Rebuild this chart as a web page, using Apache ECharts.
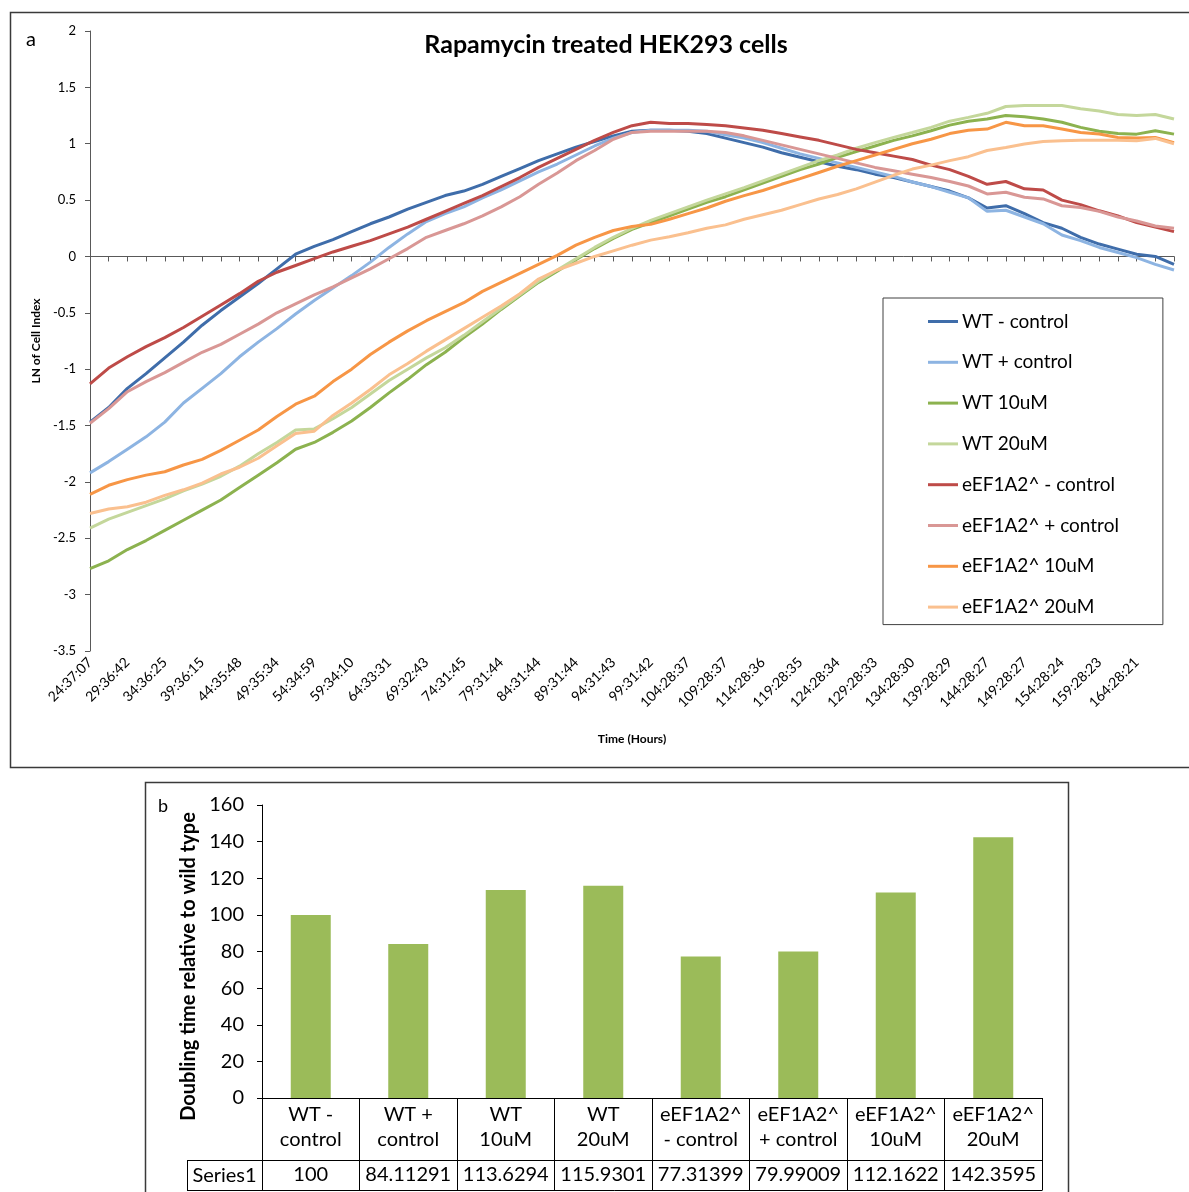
<!DOCTYPE html>
<html>
<head>
<meta charset="utf-8">
<script src="https://cdn.jsdelivr.net/npm/echarts@6/dist/echarts.min.js"></script>
<style>
  html, body { margin: 0; padding: 0; background: #fff; }
  #chart { width: 1189px; height: 1192px; }
</style>
</head>
<body>
<div id="chart"></div>
<script>
// Sampling times (every other sample carries a label)
const timeLabels = [
  '24:37:07', '29:36:42', '34:36:25', '39:36:15', '44:35:48', '49:35:34', '54:34:59',
  '59:34:10', '64:33:31', '69:32:43', '74:31:45', '79:31:44', '84:31:44', '89:31:44',
  '94:31:43', '99:31:42', '104:28:37', '109:28:37', '114:28:36', '119:28:35', '124:28:34',
  '129:28:33', '134:28:30', '139:28:29', '144:28:27', '149:28:27', '154:28:24', '159:28:23',
  '164:28:21'
];

// LN of cell index, one value per sample
const wtMinusControl = [
  -1.47, -1.34, -1.17, -1.04, -0.90, -0.76, -0.61, -0.48, -0.36, -0.24,
  -0.11, 0.02, 0.09, 0.15, 0.22, 0.29, 0.35, 0.42, 0.48, 0.54,
  0.58, 0.64, 0.71, 0.78, 0.85, 0.91, 0.97, 1.02, 1.07, 1.11,
  1.12, 1.12, 1.11, 1.09, 1.05, 1.01, 0.97, 0.92, 0.88, 0.84,
  0.80, 0.77, 0.73, 0.70, 0.66, 0.62, 0.58, 0.52, 0.43, 0.45,
  0.38, 0.30, 0.25, 0.17, 0.11, 0.065, 0.02, 0.0, -0.07
];
const wtPlusControl = [
  -1.92, -1.82, -1.71, -1.60, -1.47, -1.30, -1.17, -1.04, -0.89, -0.76,
  -0.64, -0.51, -0.39, -0.28, -0.17, -0.05, 0.08, 0.20, 0.31, 0.38,
  0.44, 0.52, 0.59, 0.67, 0.75, 0.82, 0.90, 0.98, 1.05, 1.10,
  1.12, 1.12, 1.12, 1.11, 1.08, 1.05, 1.01, 0.96, 0.91, 0.87,
  0.83, 0.79, 0.75, 0.71, 0.66, 0.62, 0.57, 0.52, 0.40, 0.41,
  0.35, 0.29, 0.19, 0.14, 0.08, 0.035, -0.01, -0.07, -0.12
];
const wt10uM = [
  -2.77, -2.70, -2.60, -2.52, -2.43, -2.34, -2.25, -2.16, -2.05, -1.94,
  -1.83, -1.71, -1.65, -1.56, -1.46, -1.34, -1.21, -1.09, -0.96, -0.85,
  -0.72, -0.60, -0.47, -0.35, -0.23, -0.13, -0.03, 0.07, 0.16, 0.24,
  0.30, 0.36, 0.42, 0.48, 0.53, 0.59, 0.65, 0.71, 0.77, 0.82,
  0.88, 0.93, 0.98, 1.03, 1.07, 1.115, 1.165, 1.20, 1.22, 1.25,
  1.24, 1.22, 1.19, 1.145, 1.11, 1.09, 1.085, 1.115, 1.085
];
const wt20uM = [
  -2.41, -2.33, -2.27, -2.21, -2.15, -2.08, -2.02, -1.95, -1.86, -1.75,
  -1.65, -1.54, -1.53, -1.44, -1.34, -1.22, -1.10, -1.00, -0.90, -0.81,
  -0.70, -0.58, -0.46, -0.34, -0.22, -0.12, -0.02, 0.08, 0.17, 0.25,
  0.32, 0.38, 0.44, 0.50, 0.555, 0.61, 0.67, 0.73, 0.79, 0.85,
  0.90, 0.96, 1.01, 1.056, 1.10, 1.145, 1.20, 1.234, 1.27, 1.33,
  1.34, 1.34, 1.34, 1.31, 1.29, 1.26, 1.25, 1.26, 1.22
];
const eMinusControl = [
  -1.13, -0.99, -0.89, -0.80, -0.72, -0.63, -0.53, -0.43, -0.33, -0.22,
  -0.14, -0.08, -0.02, 0.04, 0.09, 0.14, 0.20, 0.26, 0.33, 0.40,
  0.47, 0.54, 0.62, 0.70, 0.79, 0.87, 0.95, 1.03, 1.10, 1.16,
  1.19, 1.18, 1.18, 1.17, 1.16, 1.14, 1.12, 1.09, 1.06, 1.03,
  0.99, 0.95, 0.92, 0.89, 0.86, 0.81, 0.77, 0.71, 0.64, 0.665,
  0.60, 0.59, 0.50, 0.46, 0.405, 0.36, 0.30, 0.26, 0.22
];
const ePlusControl = [
  -1.48, -1.35, -1.20, -1.11, -1.03, -0.94, -0.85, -0.78, -0.69, -0.60,
  -0.50, -0.42, -0.34, -0.27, -0.19, -0.11, -0.02, 0.07, 0.17, 0.23,
  0.29, 0.36, 0.44, 0.53, 0.64, 0.74, 0.85, 0.94, 1.04, 1.10,
  1.11, 1.11, 1.11, 1.11, 1.10, 1.07, 1.03, 0.99, 0.95, 0.91,
  0.87, 0.83, 0.79, 0.76, 0.73, 0.70, 0.665, 0.625, 0.555, 0.57,
  0.525, 0.51, 0.45, 0.435, 0.40, 0.35, 0.315, 0.27, 0.25
];
const e10uM = [
  -2.11, -2.03, -1.98, -1.94, -1.91, -1.85, -1.80, -1.72, -1.63, -1.54,
  -1.42, -1.31, -1.24, -1.11, -1.00, -0.87, -0.76, -0.66, -0.57, -0.49,
  -0.41, -0.31, -0.23, -0.15, -0.07, 0.01, 0.10, 0.17, 0.23, 0.265,
  0.285, 0.33, 0.38, 0.43, 0.49, 0.54, 0.585, 0.64, 0.69, 0.745,
  0.80, 0.85, 0.90, 0.95, 1.00, 1.04, 1.09, 1.12, 1.13, 1.19,
  1.16, 1.16, 1.13, 1.10, 1.086, 1.056, 1.05, 1.056, 1.01
];
const e20uM = [
  -2.28, -2.24, -2.22, -2.18, -2.12, -2.07, -2.01, -1.93, -1.87, -1.79,
  -1.68, -1.57, -1.55, -1.41, -1.30, -1.18, -1.05, -0.95, -0.84, -0.74,
  -0.64, -0.54, -0.44, -0.33, -0.20, -0.12, -0.06, 0.0, 0.05, 0.10,
  0.145, 0.175, 0.21, 0.25, 0.28, 0.33, 0.37, 0.41, 0.46, 0.51,
  0.55, 0.60, 0.66, 0.72, 0.775, 0.81, 0.85, 0.885, 0.94, 0.967,
  0.997, 1.02, 1.027, 1.03, 1.03, 1.03, 1.027, 1.047, 1.00
];

const lineSeriesNames = [
  'WT - control', 'WT + control', 'WT 10uM', 'WT 20uM',
  'eEF1A2^ - control', 'eEF1A2^ + control', 'eEF1A2^ 10uM', 'eEF1A2^ 20uM'
];
const lineSeriesValues = [
  wtMinusControl, wtPlusControl, wt10uM, wt20uM,
  eMinusControl, ePlusControl, e10uM, e20uM
];
const lineColors = ['#3F6DAA', '#8DB4E2', '#8CB24F', '#C4D79B', '#BE4B48', '#D99795', '#F79646', '#FAC08F'];

// Doubling time relative to wild type
const barCategories = [
  'WT -\ncontrol', 'WT +\ncontrol', 'WT\n10uM', 'WT\n20uM',
  'eEF1A2^\n- control', 'eEF1A2^\n+ control', 'eEF1A2^\n10uM', 'eEF1A2^\n20uM'
];
const doublingTime = [100, 84.11291, 113.6294, 115.9301, 77.31399, 79.99009, 112.1622, 142.3595];
const yTicksTop = [-3.5, -3, -2.5, -2, -1.5, -1, -0.5, 0, 0.5, 1, 1.5, 2];

const FONT = 'Lato, "Liberation Sans", sans-serif';
const lastSample = wtMinusControl.length - 1;

// layout of the two panels
const topGrid = { left: 90, right: 15, top: 31, height: 620 };
const barGrid = { left: 262, right: 147, top: 805, height: 293 };
const tableRow = 62, tableBottom = 92;
const seriesCellLeft = 187;
const barAxisY = barGrid.top + barGrid.height;
const barRight = 1189 - barGrid.right;

const chart = echarts.init(document.getElementById('chart'), null, { renderer: 'canvas' });

const lineSeries = lineSeriesNames.map((name, k) => ({
  name,
  type: 'line',
  xAxisIndex: 0,
  yAxisIndex: 0,
  symbol: 'none',
  smooth: false,
  lineStyle: { width: 3, color: lineColors[k] },
  itemStyle: { color: lineColors[k] },
  emphasis: { disabled: true },
  data: lineSeriesValues[k].map((v, i) => [i, v])
}));

const option = {
  animation: false,
  backgroundColor: '#ffffff',
  textStyle: { fontFamily: FONT },
  grid: [
    { left: topGrid.left, right: topGrid.right, top: topGrid.top, height: topGrid.height },
    { left: barGrid.left, right: barGrid.right, top: barGrid.top, height: barGrid.height }
  ],
  legend: {
    data: lineSeriesNames,
    orient: 'vertical',
    left: 883,
    top: 298,
    padding: [12, 44, 6, 45],
    icon: 'rect',
    itemGap: 17.8,
    itemWidth: 30,
    itemHeight: 3,
    borderColor: '#404040',
    borderWidth: 1,
    textStyle: { fontFamily: FONT, fontSize: 19, color: '#000', lineHeight: 23, padding: [0, 0, 0, -1] }
  },
  xAxis: [
    {
      // time labels along the bottom of the line panel
      gridIndex: 0,
      type: 'value',
      min: 0,
      max: lastSample,
      interval: 2,
      position: 'bottom',
      axisLine: { show: false, onZero: false },
      axisTick: { show: false },
      splitLine: { show: false },
      axisLabel: {
        rotate: 45,
        margin: 9,
        fontSize: 14,
        color: '#000',
        fontFamily: FONT,
        formatter: v => timeLabels[v / 2] || ''
      },
      name: 'Time (Hours)',
      nameLocation: 'middle',
      nameGap: 82,
      nameTextStyle: { fontFamily: FONT, fontSize: 12, fontWeight: 'bold', color: '#000' }
    },
    {
      // category axis line sitting on zero
      gridIndex: 0,
      type: 'value',
      min: 0,
      max: lastSample,
      interval: 1,
      position: 'bottom',
      axisLine: { show: true, onZero: true, lineStyle: { color: '#595959', width: 1 } },
      axisTick: { show: true, length: 5, lineStyle: { color: '#595959' } },
      axisLabel: { show: false },
      splitLine: { show: false }
    },
    {
      gridIndex: 1,
      type: 'category',
      data: barCategories,
      position: 'bottom',
      axisLine: { show: true, lineStyle: { color: '#000', width: 1 } },
      axisTick: { show: true, interval: 0, length: tableBottom, lineStyle: { color: '#000' } },
      axisLabel: {
        interval: 0,
        margin: 4,
        fontSize: 20,
        lineHeight: 25,
        color: '#000',
        fontFamily: FONT
      }
    },
    {
      // value row of the data table
      gridIndex: 1,
      type: 'category',
      data: doublingTime.map(v => String(Number(v.toPrecision(7)))),
      position: 'bottom',
      offset: tableRow,
      axisLine: { show: true, lineStyle: { color: '#000', width: 1 } },
      axisTick: { show: false },
      axisLabel: { interval: 0, margin: 5, fontSize: 20, color: '#000', fontFamily: FONT }
    }
  ],
  yAxis: [
    {
      gridIndex: 0,
      type: 'value',
      min: yTicksTop[0],
      max: yTicksTop[yTicksTop.length - 1],
      interval: 0.5,
      axisLine: { show: true, lineStyle: { color: '#595959', width: 1 } },
      axisTick: { show: true, length: 5, lineStyle: { color: '#595959' } },
      splitLine: { show: false },
      axisLabel: { margin: 14, fontSize: 13, color: '#000', fontFamily: FONT },
      name: 'LN of Cell Index',
      nameLocation: 'middle',
      nameGap: 38,
      nameRotate: 90,
      nameTextStyle: { fontFamily: FONT, fontSize: 12, fontWeight: 'bold', color: '#000' }
    },
    {
      gridIndex: 1,
      type: 'value',
      min: 0,
      max: 160,
      interval: 20,
      axisLine: { show: true, lineStyle: { color: '#000', width: 1 } },
      axisTick: { show: true, length: 5, lineStyle: { color: '#000' } },
      splitLine: { show: false },
      axisLabel: { margin: 18, fontSize: 20, color: '#000', fontFamily: FONT },
      name: 'Doubling time relative to wild type',
      nameLocation: 'middle',
      nameGap: 63,
      nameRotate: 90,
      nameTextStyle: {
        fontFamily: FONT, fontSize: 20, fontWeight: 'bold', color: '#000',
        padding: [0, 30, 0, 0]
      }
    }
  ],
  series: lineSeries.concat([
    {
      name: 'Series1',
      type: 'bar',
      xAxisIndex: 2,
      yAxisIndex: 1,
      barWidth: 40,
      itemStyle: { color: '#9BBB59' },
      emphasis: { disabled: true },
      data: doublingTime
    }
  ]),
  graphic: [
    // panel frames
    { type: 'rect', silent: true, shape: { x: 10.5, y: 12.5, width: 1200, height: 755 },
      style: { fill: null, stroke: '#3a3a3a', lineWidth: 1.5 } },
    { type: 'rect', silent: true, shape: { x: 145.5, y: 782.5, width: 923, height: 430 },
      style: { fill: null, stroke: '#3a3a3a', lineWidth: 1.5 } },
    // panel letters and title
    { type: 'text', x: 26, y: 30, silent: true,
      style: { text: 'a', fontFamily: FONT, fontSize: 20, fill: '#000' } },
    { type: 'text', x: 158, y: 797, silent: true,
      style: { text: 'b', fontFamily: FONT, fontSize: 18, fill: '#000' } },
    { type: 'text', x: 606, y: 45, silent: true,
      style: { text: 'Rapamycin treated HEK293 cells', fontFamily: FONT, fontSize: 25, fontWeight: 'bold',
               fill: '#000', align: 'center', verticalAlign: 'middle' } },
    // data table: series name cell and outer lines
    { type: 'line', silent: true,
      shape: { x1: seriesCellLeft, y1: barAxisY + tableRow + 0.5, x2: barGrid.left, y2: barAxisY + tableRow + 0.5 },
      style: { stroke: '#000', lineWidth: 1 } },
    { type: 'line', silent: true,
      shape: { x1: seriesCellLeft, y1: barAxisY + tableBottom + 0.5, x2: barRight + 0.5, y2: barAxisY + tableBottom + 0.5 },
      style: { stroke: '#000', lineWidth: 1 } },
    { type: 'line', silent: true,
      shape: { x1: seriesCellLeft + 0.5, y1: barAxisY + tableRow, x2: seriesCellLeft + 0.5, y2: barAxisY + tableBottom + 1 },
      style: { stroke: '#000', lineWidth: 1 } },
    { type: 'text', silent: true,
      x: (seriesCellLeft + barGrid.left) / 2, y: barAxisY + (tableRow + tableBottom) / 2 + 1,
      style: { text: 'Series1', fontFamily: FONT, fontSize: 20, fill: '#000', align: 'center', verticalAlign: 'middle' } }
  ]
};

chart.setOption(option);
</script>
</body>
</html>
